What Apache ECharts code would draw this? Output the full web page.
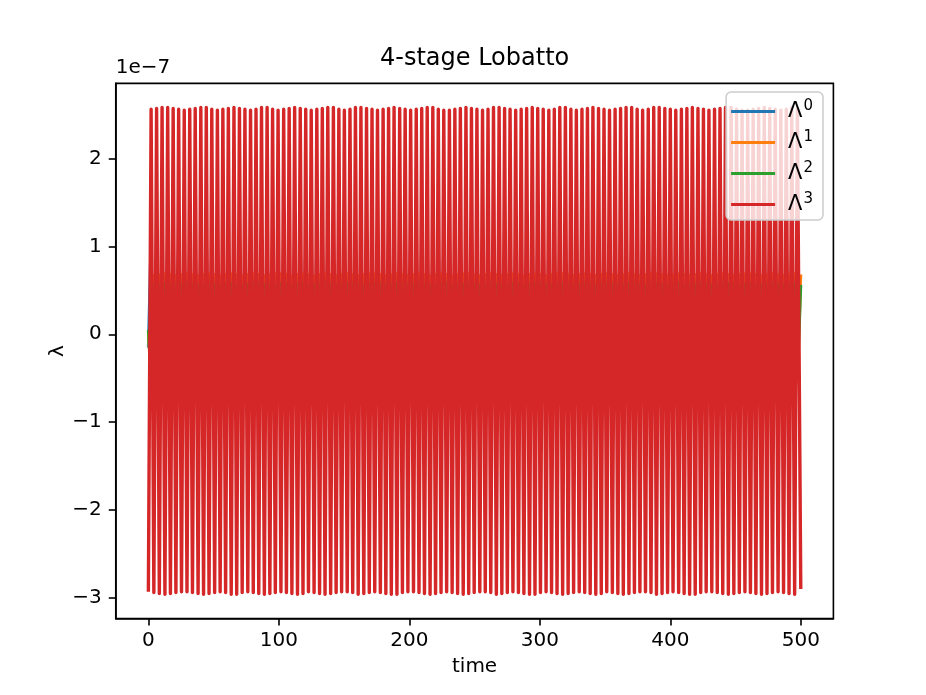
<!DOCTYPE html>
<html>
<head>
<meta charset="utf-8">
<script src="https://cdn.jsdelivr.net/npm/echarts@6/dist/echarts.min.js"></script>
<style>
html,body{margin:0;padding:0;background:#fff;}
#chart{width:926px;height:695px;}
</style>
</head>
<body>
<div id="chart"></div>
<script>
// Values of lambda are in units of 1e-7 (axis offset text "1e−7")
const title = '4-stage Lobatto';
const xLabel = 'time';
const yLabel = 'λ';
const offsetText = '1e−7';
const seriesNames = ['Λ0', 'Λ1', 'Λ2', 'Λ3'];
const xTicks = [0, 100, 200, 300, 400, 500];
const yTicks = [-3, -2, -1, 0, 1, 2];

// turning-point times
const time = [
  0, 2.1, 4.2, 6.3, 8.4, 10.5, 12.7, 14.8, 16.9, 19.0, 21.1, 23.2,
  25.4, 27.5, 29.6, 31.7, 33.8, 35.9, 38.1, 40.2, 42.3, 44.4, 46.5, 48.6,
  50.8, 52.9, 55.0, 57.1, 59.2, 61.3, 63.5, 65.6, 67.7, 69.8, 71.9, 74.0,
  76.2, 78.3, 80.4, 82.5, 84.6, 86.7, 88.9, 91.0, 93.1, 95.2, 97.3, 99.4,
  101.6, 103.7, 105.8, 107.9, 110.0, 112.1, 114.3, 116.4, 118.5, 120.6, 122.7, 124.8,
  127.0, 129.1, 131.2, 133.3, 135.4, 137.5, 139.7, 141.8, 143.9, 146.0, 148.1, 150.2,
  152.4, 154.5, 156.6, 158.7, 160.8, 162.9, 165.1, 167.2, 169.3, 171.4, 173.5, 175.6,
  177.8, 179.9, 182.0, 184.1, 186.2, 188.3, 190.5, 192.6, 194.7, 196.8, 198.9, 201.0,
  203.2, 205.3, 207.4, 209.5, 211.6, 213.7, 215.9, 218.0, 220.1, 222.2, 224.3, 226.4,
  228.6, 230.7, 232.8, 234.9, 237.0, 239.1, 241.3, 243.4, 245.5, 247.6, 249.7, 251.8,
  254.0, 256.1, 258.2, 260.3, 262.4, 264.5, 266.7, 268.8, 270.9, 273.0, 275.1, 277.2,
  279.4, 281.5, 283.6, 285.7, 287.8, 289.9, 292.1, 294.2, 296.3, 298.4, 300.5, 302.6,
  304.8, 306.9, 309.0, 311.1, 313.2, 315.3, 317.5, 319.6, 321.7, 323.8, 325.9, 328.0,
  330.2, 332.3, 334.4, 336.5, 338.6, 340.7, 342.9, 345.0, 347.1, 349.2, 351.3, 353.4,
  355.6, 357.7, 359.8, 361.9, 364.0, 366.1, 368.3, 370.4, 372.5, 374.6, 376.7, 378.8,
  381.0, 383.1, 385.2, 387.3, 389.4, 391.5, 393.7, 395.8, 397.9, 400.0, 402.1, 404.2,
  406.4, 408.5, 410.6, 412.7, 414.8, 416.9, 419.1, 421.2, 423.3, 425.4, 427.5, 429.6,
  431.8, 433.9, 436.0, 438.1, 440.2, 442.3, 444.5, 446.6, 448.7, 450.8, 452.9, 455.0,
  457.2, 459.3, 461.4, 463.5, 465.6, 467.7, 469.9, 472.0, 474.1, 476.2, 478.3, 480.4,
  482.6, 484.7, 486.8, 488.9, 491.0, 493.1, 495.3, 497.4, 500.0
];

// Λ0 (blue)
const lam0 = [
  -0.15, 1.10, -1.18, 1.12, -1.22, 1.14, -1.25, 1.16, -1.23, 1.13, -1.20, 1.11,
  -1.19, 1.10, -1.21, 1.13, -1.24, 1.15, -1.26, 1.16, -1.23, 1.13, -1.20, 1.11,
  -1.18, 1.12, -1.22, 1.14, -1.25, 1.16, -1.24, 1.14, -1.21, 1.12, -1.19, 1.10,
  -1.20, 1.12, -1.23, 1.15, -1.26, 1.16, -1.24, 1.13, -1.21, 1.11, -1.19, 1.10,
  -1.21, 1.13, -1.24, 1.15, -1.25, 1.15, -1.22, 1.12, -1.19, 1.10, -1.20, 1.12,
  -1.22, 1.14, -1.25, 1.16, -1.24, 1.14, -1.21, 1.11, -1.19, 1.10, -1.21, 1.13,
  -1.23, 1.15, -1.26, 1.16, -1.23, 1.13, -1.20, 1.11, -1.18, 1.11, -1.22, 1.14,
  -1.24, 1.15, -1.25, 1.15, -1.22, 1.12, -1.19, 1.10, -1.20, 1.12, -1.23, 1.14,
  -1.25, 1.16, -1.24, 1.14, -1.21, 1.11, -1.19, 1.10, -1.21, 1.13, -1.24, 1.15,
  -1.26, 1.16, -1.23, 1.13, -1.20, 1.11, -1.18, 1.11, -1.22, 1.14, -1.25, 1.16,
  -1.24, 1.14, -1.21, 1.12, -1.19, 1.10, -1.20, 1.12, -1.23, 1.15, -1.26, 1.16,
  -1.23, 1.13, -1.20, 1.11, -1.19, 1.10, -1.21, 1.13, -1.24, 1.15, -1.25, 1.15,
  -1.22, 1.12, -1.19, 1.10, -1.20, 1.12, -1.22, 1.14, -1.25, 1.16, -1.24, 1.14,
  -1.21, 1.11, -1.19, 1.10, -1.21, 1.13, -1.23, 1.15, -1.26, 1.16, -1.23, 1.13,
  -1.20, 1.11, -1.18, 1.11, -1.22, 1.14, -1.24, 1.15, -1.25, 1.15, -1.22, 1.12,
  -1.19, 1.10, -1.20, 1.12, -1.23, 1.14, -1.25, 1.16, -1.24, 1.14, -1.21, 1.11,
  -1.19, 1.10, -1.21, 1.13, -1.24, 1.15, -1.26, 1.16, -1.23, 1.13, -1.20, 1.11,
  -1.18, 1.11, -1.22, 1.14, -1.25, 1.16, -1.24, 1.14, -1.21, 1.12, -1.19, 1.10,
  -1.20, 1.12, -1.23, 1.15, -1.26, 1.16, -1.23, 1.13, -1.20, 1.11, -1.19, 1.10,
  -1.21, 1.13, -1.24, 1.15, -1.25, 1.14, -1.22, 0.70, 0.62
];

// Λ1 (orange)
const lam1 = [
  0.02, -0.55, 0.67, -0.54, 0.68, -0.56, 0.69, -0.55, 0.68, -0.54, 0.67, -0.55,
  0.68, -0.56, 0.69, -0.55, 0.68, -0.54, 0.67, -0.55, 0.68, -0.56, 0.69, -0.55,
  0.68, -0.54, 0.67, -0.55, 0.68, -0.56, 0.69, -0.56, 0.68, -0.54, 0.67, -0.54,
  0.68, -0.55, 0.69, -0.56, 0.68, -0.55, 0.67, -0.54, 0.68, -0.55, 0.69, -0.56,
  0.69, -0.55, 0.68, -0.54, 0.67, -0.55, 0.68, -0.56, 0.69, -0.55, 0.68, -0.54,
  0.67, -0.55, 0.68, -0.56, 0.69, -0.56, 0.68, -0.54, 0.67, -0.54, 0.68, -0.55,
  0.69, -0.56, 0.68, -0.55, 0.67, -0.54, 0.68, -0.55, 0.69, -0.56, 0.69, -0.55,
  0.68, -0.54, 0.67, -0.55, 0.68, -0.56, 0.69, -0.55, 0.68, -0.54, 0.67, -0.55,
  0.68, -0.56, 0.69, -0.56, 0.68, -0.54, 0.67, -0.54, 0.68, -0.55, 0.69, -0.56,
  0.68, -0.55, 0.67, -0.54, 0.68, -0.55, 0.69, -0.56, 0.69, -0.55, 0.68, -0.54,
  0.67, -0.55, 0.68, -0.56, 0.69, -0.55, 0.68, -0.54, 0.67, -0.55, 0.68, -0.56,
  0.69, -0.56, 0.68, -0.54, 0.67, -0.54, 0.68, -0.55, 0.69, -0.56, 0.68, -0.55,
  0.67, -0.54, 0.68, -0.55, 0.69, -0.56, 0.69, -0.55, 0.68, -0.54, 0.67, -0.55,
  0.68, -0.56, 0.69, -0.55, 0.68, -0.54, 0.67, -0.55, 0.68, -0.56, 0.69, -0.56,
  0.68, -0.54, 0.67, -0.54, 0.68, -0.55, 0.69, -0.56, 0.68, -0.55, 0.67, -0.54,
  0.68, -0.55, 0.69, -0.56, 0.69, -0.55, 0.68, -0.54, 0.67, -0.55, 0.68, -0.56,
  0.69, -0.55, 0.68, -0.54, 0.67, -0.55, 0.68, -0.56, 0.69, -0.56, 0.68, -0.54,
  0.67, -0.54, 0.68, -0.55, 0.69, -0.56, 0.68, -0.55, 0.67, -0.54, 0.68, -0.55,
  0.69, -0.56, 0.69, -0.55, 0.68, -0.54, 0.67, -0.55, 0.68, -0.56, 0.69, -0.55,
  0.68, -0.54, 0.67, -0.55, 0.68, -0.56, 0.69, -0.55, 0.68
];

// Λ2 (green)
const lam2 = [
  0.05, -0.50, 0.56, -0.49, 0.57, -0.51, 0.58, -0.50, 0.57, -0.49, 0.56, -0.50,
  0.57, -0.51, 0.58, -0.50, 0.57, -0.49, 0.56, -0.50, 0.57, -0.51, 0.58, -0.51,
  0.57, -0.49, 0.56, -0.49, 0.57, -0.50, 0.58, -0.51, 0.57, -0.50, 0.56, -0.49,
  0.57, -0.50, 0.58, -0.51, 0.58, -0.50, 0.57, -0.49, 0.56, -0.50, 0.57, -0.51,
  0.58, -0.50, 0.57, -0.49, 0.56, -0.50, 0.57, -0.51, 0.58, -0.51, 0.57, -0.49,
  0.56, -0.49, 0.57, -0.50, 0.58, -0.51, 0.57, -0.50, 0.56, -0.49, 0.57, -0.50,
  0.58, -0.51, 0.58, -0.50, 0.57, -0.49, 0.56, -0.50, 0.57, -0.51, 0.58, -0.50,
  0.57, -0.49, 0.56, -0.50, 0.57, -0.51, 0.58, -0.51, 0.57, -0.49, 0.56, -0.49,
  0.57, -0.50, 0.58, -0.51, 0.57, -0.50, 0.56, -0.49, 0.57, -0.50, 0.58, -0.51,
  0.58, -0.50, 0.57, -0.49, 0.56, -0.50, 0.57, -0.51, 0.58, -0.50, 0.57, -0.49,
  0.56, -0.50, 0.57, -0.51, 0.58, -0.51, 0.57, -0.49, 0.56, -0.49, 0.57, -0.50,
  0.58, -0.51, 0.57, -0.50, 0.56, -0.49, 0.57, -0.50, 0.58, -0.51, 0.58, -0.50,
  0.57, -0.49, 0.56, -0.50, 0.57, -0.51, 0.58, -0.50, 0.57, -0.49, 0.56, -0.50,
  0.57, -0.51, 0.58, -0.51, 0.57, -0.49, 0.56, -0.49, 0.57, -0.50, 0.58, -0.51,
  0.57, -0.50, 0.56, -0.49, 0.57, -0.50, 0.58, -0.51, 0.58, -0.50, 0.57, -0.49,
  0.56, -0.50, 0.57, -0.51, 0.58, -0.50, 0.57, -0.49, 0.56, -0.50, 0.57, -0.51,
  0.58, -0.51, 0.57, -0.49, 0.56, -0.49, 0.57, -0.50, 0.58, -0.51, 0.57, -0.50,
  0.56, -0.49, 0.57, -0.50, 0.58, -0.51, 0.58, -0.50, 0.57, -0.49, 0.56, -0.50,
  0.57, -0.51, 0.58, -0.50, 0.57, -0.49, 0.56, -0.50, 0.57, -0.51, 0.58, -0.51,
  0.57, -0.49, 0.56, -0.49, 0.57, -0.50, 0.58, -0.51, 0.56
];

// Λ3 (red)
const lam3 = [
  -2.93, 2.56, -2.94, 2.57, -2.95, 2.58, -2.96, 2.58, -2.95, 2.57, -2.94, 2.56,
  -2.93, 2.55, -2.93, 2.56, -2.94, 2.57, -2.95, 2.58, -2.96, 2.58, -2.95, 2.56,
  -2.94, 2.55, -2.93, 2.56, -2.94, 2.57, -2.96, 2.58, -2.96, 2.57, -2.94, 2.56,
  -2.93, 2.55, -2.94, 2.56, -2.95, 2.58, -2.96, 2.58, -2.95, 2.56, -2.94, 2.55,
  -2.93, 2.56, -2.94, 2.57, -2.95, 2.58, -2.96, 2.57, -2.95, 2.56, -2.93, 2.55,
  -2.94, 2.56, -2.95, 2.57, -2.96, 2.58, -2.95, 2.58, -2.94, 2.56, -2.93, 2.55,
  -2.93, 2.56, -2.94, 2.58, -2.96, 2.58, -2.95, 2.57, -2.94, 2.56, -2.93, 2.55,
  -2.94, 2.56, -2.95, 2.57, -2.96, 2.58, -2.96, 2.57, -2.94, 2.56, -2.93, 2.55,
  -2.93, 2.56, -2.94, 2.57, -2.95, 2.58, -2.96, 2.58, -2.95, 2.56, -2.94, 2.55,
  -2.93, 2.55, -2.94, 2.56, -2.95, 2.57, -2.96, 2.58, -2.95, 2.57, -2.94, 2.56,
  -2.93, 2.55, -2.93, 2.56, -2.94, 2.58, -2.96, 2.58, -2.95, 2.57, -2.94, 2.56,
  -2.93, 2.55, -2.94, 2.56, -2.95, 2.57, -2.96, 2.58, -2.96, 2.57, -2.94, 2.56,
  -2.93, 2.55, -2.94, 2.56, -2.95, 2.58, -2.96, 2.58, -2.95, 2.56, -2.94, 2.55,
  -2.93, 2.56, -2.94, 2.57, -2.95, 2.58, -2.96, 2.57, -2.95, 2.56, -2.93, 2.55,
  -2.94, 2.56, -2.95, 2.57, -2.96, 2.58, -2.95, 2.58, -2.94, 2.56, -2.93, 2.55,
  -2.93, 2.56, -2.94, 2.58, -2.96, 2.58, -2.95, 2.57, -2.94, 2.56, -2.93, 2.55,
  -2.94, 2.56, -2.95, 2.57, -2.96, 2.58, -2.96, 2.57, -2.94, 2.56, -2.93, 2.55,
  -2.93, 2.56, -2.94, 2.57, -2.95, 2.58, -2.96, 2.58, -2.95, 2.56, -2.94, 2.55,
  -2.93, 2.55, -2.94, 2.56, -2.95, 2.57, -2.96, 2.58, -2.95, 2.57, -2.94, 2.56,
  -2.93, 2.55, -2.94, 2.56, -2.95, 2.58, -2.96, 2.57, -2.90
];

const colors = ['#1f77b4', '#ff7f0e', '#2ca02c', '#d62728'];
const lineWidths = [3, 3, 3, 3.4];
const seriesValues = [lam0, lam1, lam2, lam3];

const FONT = 'DejaVu Sans';
const fmtMinus = v => (v < 0 ? '\u2212' + Math.abs(v) : String(v));

const chart = echarts.init(document.getElementById('chart'), null, { renderer: 'canvas' });

const series = seriesValues.map((vals, i) => ({
  name: seriesNames[i],
  type: 'line',
  data: time.map((t, j) => [t, vals[j]]),
  showSymbol: false,
  symbol: 'none',
  silent: true,
  lineStyle: { color: colors[i], width: lineWidths[i], join: 'round', cap: 'butt' },
  itemStyle: { color: colors[i] },
  emphasis: { disabled: true },
  animation: false
}));

const option = {
  animation: false,
  backgroundColor: '#ffffff',
  textStyle: { fontFamily: FONT },
  grid: {
    left: 115.75, right: 92.6, top: 83.4, bottom: 76.5,
    show: true, borderColor: '#000', borderWidth: 1.6, backgroundColor: 'transparent'
  },
  xAxis: {
    type: 'value', min: -25, max: 525,
    name: xLabel, nameLocation: 'middle', nameGap: 38,
    nameTextStyle: { fontFamily: FONT, fontSize: 20, color: '#000' },
    axisLine: { show: true, onZero: false, lineStyle: { color: '#000', width: 1.6 } },
    axisTick: { show: true, inside: false, length: 7, lineStyle: { color: '#000', width: 1.6 }, customValues: xTicks },
    axisLabel: { show: true, margin: 12, fontFamily: FONT, fontSize: 20, color: '#000', customValues: xTicks, formatter: fmtMinus },
    splitLine: { show: false }
  },
  yAxis: {
    type: 'value', min: -3.235, max: 2.855,
    axisLine: { show: true, onZero: false, lineStyle: { color: '#000', width: 1.6 } },
    axisTick: { show: true, inside: false, length: 7, lineStyle: { color: '#000', width: 1.6 }, customValues: yTicks },
    axisLabel: { show: true, margin: 14, fontFamily: FONT, fontSize: 20, color: '#000', customValues: yTicks, formatter: fmtMinus },
    splitLine: { show: false }
  },
  legend: {
    show: true,
    orient: 'vertical',
    right: 103, top: 92,
    padding: [7, 10, 5, 5],
    itemGap: 8,
    itemWidth: 44, itemHeight: 3,
    icon: 'rect',
    backgroundColor: 'rgba(255,255,255,0.8)',
    borderColor: '#cccccc', borderWidth: 1.5, borderRadius: 5,
    data: seriesNames,
    formatter: name => '{a|Λ}{s|' + name.slice(1) + '}',
    textStyle: {
      fontFamily: FONT, color: '#000', fontSize: 20,
      rich: {
        a: { fontFamily: FONT, fontSize: 21, color: '#000', padding: [0, 0, 0, 8] },
        s: { fontFamily: FONT, fontSize: 15, color: '#000', padding: [0, 0, 10, 1] }
      }
    }
  },
  graphic: [
    { type: 'text', x: 474.6, y: 47, silent: true,
      style: { text: title, fontFamily: FONT, fontSize: 24, fill: '#000', align: 'center', verticalAlign: 'top' } },
    { type: 'text', x: 115.75, y: 58, silent: true,
      style: { text: offsetText, fontFamily: FONT, fontSize: 20, fill: '#000', align: 'left', verticalAlign: 'top' } },
    { type: 'text', x: 58, y: 351, rotation: Math.PI / 2, silent: true,
      style: { text: yLabel, fontFamily: FONT, fontSize: 20, fill: '#000', align: 'center', verticalAlign: 'middle' } }
  ],
  series: series
};

chart.setOption(option);
</script>
</body>
</html>
